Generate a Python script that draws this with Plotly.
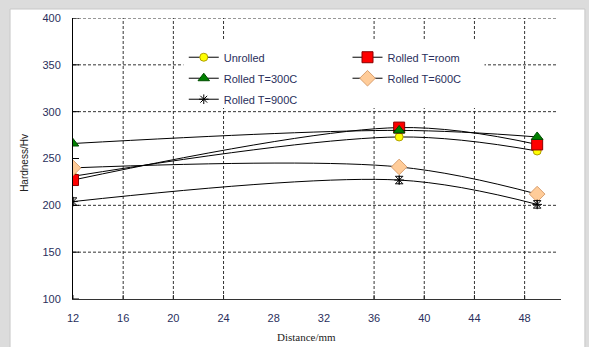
import plotly.graph_objects as go

# ---- data ----
distance = [12, 38, 49]
unrolled = [231, 273, 258]
rolled_room = [227, 283, 265]
rolled_300 = [266, 280, 273]
rolled_600 = [240, 241, 212]
rolled_900 = [204, 227, 201]
err_900 = [4, 4, 4]

x_label_vals = [12, 16, 20, 24, 28, 32, 36, 40, 44, 48]
x_tick_marks = [12, 16, 20, 24, 36, 40, 44, 48]
x_grid = [16, 20, 24, 36, 40, 44, 48]
y_tick_vals = [100, 150, 200, 250, 300, 350, 400]
y_grid = [150, 200, 300, 350, 400]

X_RANGE = [12, 50.9]
Y_RANGE = [100, 400]

TXT = "#2a2f5c"
FONT = "Liberation Sans, Arial, sans-serif"

fig = go.Figure()

def add(name, y, symbol, size, fill, edge, legend, err=None):
    fig.add_trace(go.Scatter(
        x=distance, y=y, name=name, mode="lines+markers",
        line=dict(color="black", width=1, shape="spline", smoothing=1),
        marker=dict(symbol=symbol, size=size, color=fill,
                    line=dict(color=edge, width=1)),
        error_y=(dict(type="data", array=err, visible=True, color="black",
                      thickness=1, width=4) if err else None),
        legend=legend, legendgroup=name,
    ))

add("Unrolled", unrolled, "circle", 8, "#ffff00", "#b0a000", "legend")
add("Rolled T=room", rolled_room, "square", 11, "#ff0000", "#8b0000", "legend2")
add("Rolled T=300C", rolled_300, "triangle-up", 10, "#008000", "#004d00", "legend")
add("Rolled T=600C", rolled_600, "diamond", 12, "#ffcc99", "#d9a070", "legend2")
add("Rolled T=900C", rolled_900, "asterisk-open", 8, "black", "black", "legend", err_900)

fig.update_layout(
    width=589, height=347,
    margin=dict(l=73, r=28, t=16, b=48),
    paper_bgcolor="#dcdcdc",
    plot_bgcolor="rgba(0,0,0,0)",
    showlegend=True,
    xaxis=dict(range=X_RANGE, showgrid=False, zeroline=False,
               tickmode="array", tickvals=x_label_vals,
               ticks="", showline=True, linecolor="#333333", linewidth=1,
               tickfont=dict(family=FONT, size=11, color=TXT),
               ticklabelstandoff=9),
    yaxis=dict(range=Y_RANGE, showgrid=False, zeroline=False,
               tickmode="array", tickvals=y_tick_vals,
               ticks="", showline=True, linecolor="black", linewidth=1,
               tickfont=dict(family=FONT, size=11, color=TXT),
               ticklabelstandoff=9),
    legend=dict(x=0.227, y=0.912, xanchor="left", yanchor="top",
                bgcolor="rgba(0,0,0,0)", font=dict(family=FONT, size=11, color=TXT),
                tracegroupgap=2, itemwidth=30),
    legend2=dict(x=0.5625, y=0.912, xanchor="left", yanchor="top",
                 bgcolor="rgba(0,0,0,0)", font=dict(family=FONT, size=11, color=TXT),
                 tracegroupgap=2, itemwidth=30),
    annotations=[
        dict(text="Hardness/Hv", xref="paper", yref="paper", x=-0.114, y=0.484,
             textangle=-90, showarrow=False,
             font=dict(family=FONT, size=10, color="#222222")),
        dict(text="Distance/mm", xref="paper", yref="paper", x=0.478, y=-0.162,
             showarrow=False,
             font=dict(family="Liberation Serif, Times New Roman, serif", size=11, color="#222222")),
    ],
)

# white card behind the chart
fig.add_shape(type="rect", xref="paper", yref="paper",
              x0=-0.129, x1=1.049, y0=-0.2, y1=1.032,
              fillcolor="white", line=dict(color="#c8c8c8", width=1), layer="below")

GRID = dict(color="#333333", width=1, dash="3px,2px")
for gx in x_grid:
    fig.add_shape(type="line", xref="x", yref="y", x0=gx, x1=gx,
                  y0=Y_RANGE[0], y1=Y_RANGE[1], line=GRID, layer="below")
for gy in y_grid:
    fig.add_shape(type="line", xref="x", yref="y", x0=X_RANGE[0], x1=50.6,
                  y0=gy, y1=gy, line=GRID, layer="below")

# tick marks crossing the axes
for tx in x_tick_marks:
    fig.add_shape(type="line", xref="x", yref="y", ysizemode="pixel",
                  yanchor=Y_RANGE[0], x0=tx, x1=tx, y0=-4, y1=4,
                  line=dict(color="#222222", width=1), layer="above")
for ty in y_tick_vals:
    fig.add_shape(type="line", xref="x", yref="y", xsizemode="pixel",
                  xanchor=X_RANGE[0], y0=ty, y1=ty, x0=-6, x1=6,
                  line=dict(color="black", width=1), layer="above")

# white box behind the legend hides the grid
fig.add_shape(type="rect", xref="x", yref="y",
              x0=20.8, x1=44.8, y0=304, y1=377,
              fillcolor="white", line=dict(width=0), layer="above")

fig.write_html("out.html", post_script="document.body.style.margin='0';",
               config={"displayModeBar": False})
